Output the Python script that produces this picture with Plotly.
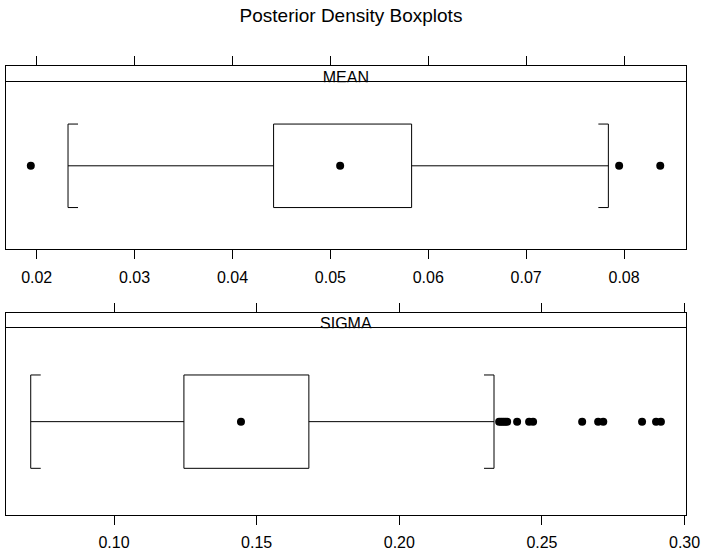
import plotly.graph_objects as go

# ---- data ----
panel_names = ["MEAN", "SIGMA"]

mean_whisker_low = 0.0232
mean_q1 = 0.0442
mean_median = 0.0510
mean_q3 = 0.0583
mean_whisker_high = 0.0784
mean_outliers = [0.0194, 0.0795, 0.0837]

sigma_whisker_low = 0.0708
sigma_q1 = 0.1245
sigma_median = 0.1445
sigma_q3 = 0.1683
sigma_whisker_high = 0.2332
sigma_outliers = [0.2350, 0.2357, 0.2364, 0.2371, 0.2378, 0.2413, 0.2455, 0.2469,
                  0.2641, 0.2697, 0.2715, 0.2851, 0.2900, 0.2917]

mean_ticks = [0.02, 0.03, 0.04, 0.05, 0.06, 0.07, 0.08]
sigma_ticks = [0.10, 0.15, 0.20, 0.25, 0.30]

# ---- layout constants ----
W, H = 702, 553
mean_range = [0.016834, 0.08633]
sigma_range = [0.06203, 0.3005]
x_dom = [5.7 / W, 686.0 / W]
plot_w_px = (x_dom[1] - x_dom[0]) * W
CAP_PX = 10
BOX_LO, BOX_HI, MID = 0.25, 0.75, 0.5

def ypaper(px):
    return 1 - px / H

panels = [
    dict(name=panel_names[0], wl=mean_whisker_low, q1=mean_q1, med=mean_median, q3=mean_q3,
         wh=mean_whisker_high, out=mean_outliers, ticks=mean_ticks, rng=mean_range,
         fmt=".2f", strip=(66.0, 82.3), plot=(82.3, 249.3), xa="x", ya="y", xs="x3", ys="y3"),
    dict(name=panel_names[1], wl=sigma_whisker_low, q1=sigma_q1, med=sigma_median, q3=sigma_q3,
         wh=sigma_whisker_high, out=sigma_outliers, ticks=sigma_ticks, rng=sigma_range,
         fmt=".2f", strip=(312.7, 328.3), plot=(328.3, 515.0), xa="x2", ya="y2", xs="x4", ys="y4"),
]

FONT = "Liberation Sans, Arial, Helvetica, sans-serif"
line = dict(color="black", width=1)

fig = go.Figure()
layout = {}

for p in panels:
    cap = CAP_PX / plot_w_px * (p["rng"][1] - p["rng"][0])
    # box
    fig.add_trace(go.Scatter(
        x=[p["q1"], p["q3"], p["q3"], p["q1"], p["q1"]],
        y=[BOX_LO, BOX_LO, BOX_HI, BOX_HI, BOX_LO],
        mode="lines", line=line, xaxis=p["xa"], yaxis=p["ya"], hoverinfo="skip"))
    # whiskers
    fig.add_trace(go.Scatter(
        x=[p["wl"], p["q1"], None, p["q3"], p["wh"]],
        y=[MID, MID, None, MID, MID],
        mode="lines", line=line, xaxis=p["xa"], yaxis=p["ya"], hoverinfo="skip"))
    # bracket caps
    fig.add_trace(go.Scatter(
        x=[p["wl"] + cap, p["wl"], p["wl"], p["wl"] + cap, None,
           p["wh"] - cap, p["wh"], p["wh"], p["wh"] - cap],
        y=[BOX_HI, BOX_HI, BOX_LO, BOX_LO, None, BOX_HI, BOX_HI, BOX_LO, BOX_LO],
        mode="lines", line=line, xaxis=p["xa"], yaxis=p["ya"], hoverinfo="skip"))
    # median + outliers
    fig.add_trace(go.Scatter(
        x=[p["med"]] + p["out"], y=[MID] * (1 + len(p["out"])),
        mode="markers", marker=dict(color="black", size=8, line=dict(width=0)),
        xaxis=p["xa"], yaxis=p["ya"], cliponaxis=False))
    # strip label (clipped to strip)
    fig.add_trace(go.Scatter(
        x=[(p["rng"][0] + p["rng"][1]) / 2], y=[0.23], mode="text", text=[p["name"]],
        textposition="middle center", textfont=dict(family=FONT, size=16, color="black"),
        cliponaxis=True, xaxis=p["xs"], yaxis=p["ys"], hoverinfo="skip"))

    xk = "xaxis" if p["xa"] == "x" else "xaxis" + p["xa"][1:]
    yk = "yaxis" if p["ya"] == "y" else "yaxis" + p["ya"][1:]
    xsk = "xaxis" + p["xs"][1:]
    ysk = "yaxis" + p["ys"][1:]
    layout[xk] = dict(domain=x_dom, range=p["rng"], anchor=p["ya"], tickvals=p["ticks"],
                      tickformat=p["fmt"], ticks="outside", ticklen=9, tickwidth=1,
                      tickcolor="black", showline=True, mirror=True, linecolor="black",
                      linewidth=1, showgrid=False, zeroline=False, automargin=False,
                      ticklabelstandoff=4,
                      tickfont=dict(family=FONT, size=16, color="black"))
    layout[yk] = dict(domain=[ypaper(p["plot"][1]), ypaper(p["plot"][0])], range=[0, 1],
                      anchor=p["xa"], showticklabels=False, ticks="", showline=True,
                      mirror=True, linecolor="black", linewidth=1, showgrid=False,
                      zeroline=False, automargin=False)
    layout[xsk] = dict(domain=x_dom, range=p["rng"], matches=p["xa"], anchor=p["ys"],
                       side="top", tickvals=p["ticks"], ticks="outside", ticklen=9,
                       tickwidth=1, tickcolor="black", showticklabels=False,
                       showline=True, mirror=False, linecolor="black", linewidth=1,
                       showgrid=False, zeroline=False, automargin=False)
    layout[ysk] = dict(domain=[ypaper(p["strip"][1]), ypaper(p["strip"][0])], range=[0, 1],
                       anchor=p["xs"], showticklabels=False, ticks="", showline=True,
                       mirror=True, linecolor="black", linewidth=1, showgrid=False,
                       zeroline=False, automargin=False)

fig.update_layout(
    width=W, height=H,
    margin=dict(l=0, r=0, t=0, b=0, autoexpand=False),
    paper_bgcolor="white", plot_bgcolor="white",
    showlegend=False, hovermode=False,
    title=dict(text="Posterior Density Boxplots", x=0.5, xanchor="center",
               y=ypaper(15.5), yanchor="middle",
               font=dict(family=FONT, size=19, color="black")),
    **layout,
)

post = "document.body.style.margin='0';document.body.style.padding='0';"

fig.write_html("out.html", post_script=post, config={"displayModeBar": False})
